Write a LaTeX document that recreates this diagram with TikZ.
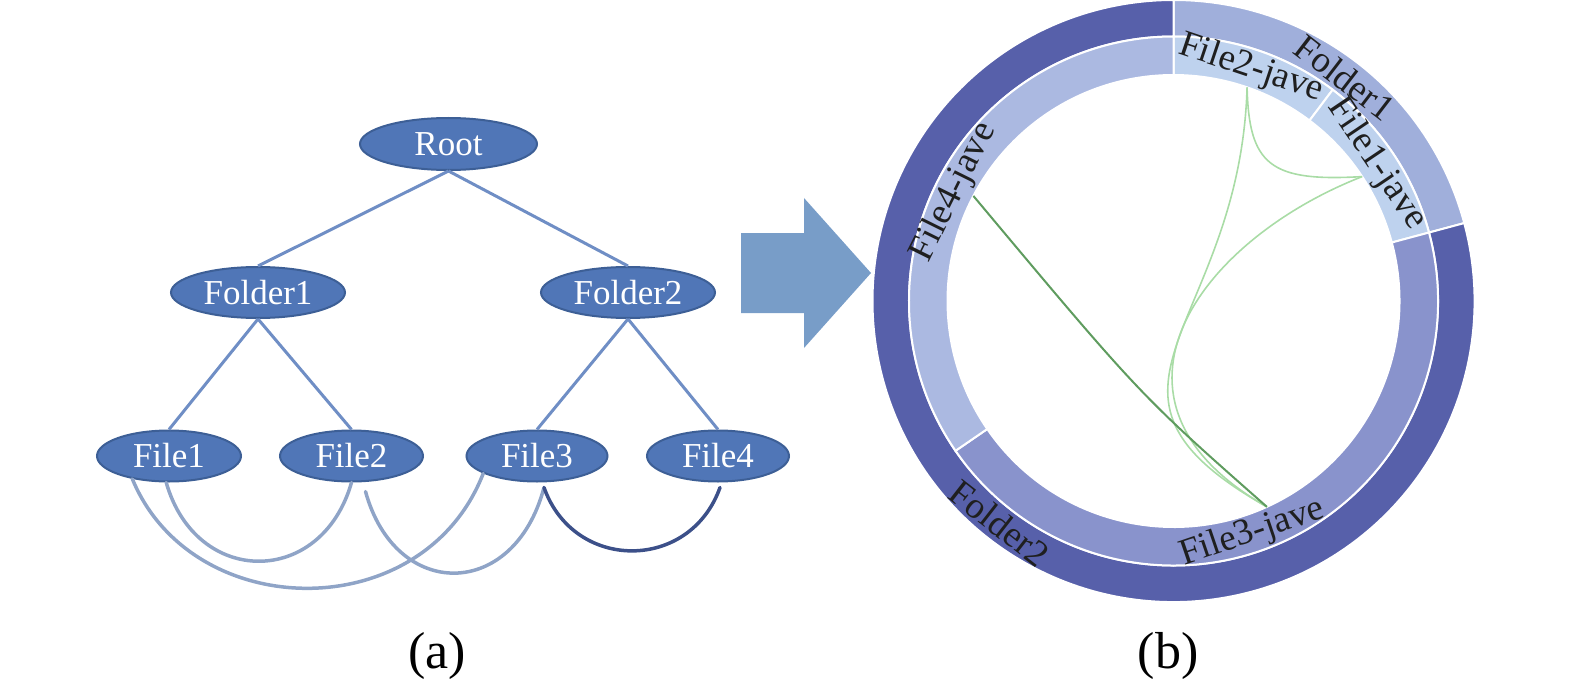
\documentclass[tikz,border=0pt]{standalone}
\usepackage{fontspec}
\setmainfont{Liberation Serif}
\usepackage{xcolor}
\usepackage{tikz}
\usetikzlibrary{shapes.geometric}
\definecolor{TreeFill}{HTML}{5076B7}
\definecolor{TreeBorder}{HTML}{3D5F96}
\definecolor{TreeEdge}{HTML}{6F8EC5}
\definecolor{DepLight}{HTML}{8FA4C7}
\definecolor{DepDark}{HTML}{3C5089}
\definecolor{ArrowFill}{HTML}{789DC8}
\definecolor{RingDark}{HTML}{5760AA}
\definecolor{RingLight}{HTML}{A0AFDB}
\definecolor{SegPale}{HTML}{BED2EE}
\definecolor{SegLight}{HTML}{ABB9E1}
\definecolor{SegMid}{HTML}{8993CC}
\definecolor{WireLight}{HTML}{A9DCA6}
\definecolor{WireDark}{HTML}{5F9C5F}
\tikzset{
  fstree node/.style={
    ellipse,
    fill=TreeFill,
    draw=TreeBorder,
    line width=1pt,
    inner sep=0pt,
    minimum height=25.5pt,
    text=white,
    font=\fontsize{17.5}{20}\selectfont
  },
  fstree edge/.style={TreeEdge, line width=1.5pt},
  fstree dep/.style={line width=1.75pt, line cap=round},
  chord seg/.style={draw=white, line width=1pt},
  chord lbl/.style={
    inner sep=0pt,
    font=\fontsize{18.5}{20}\selectfont,
    text=black!88
  },
  chord wire/.style={line width=0.8pt}
}

\begin{document}
\begin{tikzpicture}[x=0.5pt, y=0.5pt]
  \useasboundingbox (0,0) rectangle (1575,687);

  \node[fstree node, minimum width=88.5pt, minimum height=26pt] (root) at (448.5,543) {Root};
  \node[fstree node, minimum width=87pt] (fd1) at (258,394.5) {Folder1};
  \node[fstree node, minimum width=87pt] (fd2) at (628,394.5) {Folder2};
  \node[fstree node, minimum width=72pt] (f1) at (169,231) {File1};
  \node[fstree node, minimum width=71.5pt] (f2) at (351.5,231) {File2};
  \node[fstree node, minimum width=70.5pt] (f3) at (537,231) {File3};
  \node[fstree node, minimum width=71pt] (f4) at (718,231) {File4};

  \draw[fstree edge] (root.south) -- (fd1.north);
  \draw[fstree edge] (root.south) -- (fd2.north);
  \draw[fstree edge] (fd1.south) -- (f1.north);
  \draw[fstree edge] (fd1.south) -- (f2.north);
  \draw[fstree edge] (fd2.south) -- (f3.north);
  \draw[fstree edge] (fd2.south) -- (f4.north);

  \coordinate (f2dep) at ([shift={(14,-9)}]f2.south);
  \coordinate (f3dep) at ([shift={(7,-5)}]f3.south);
  \coordinate (f4dep) at ([shift={(2,-5)}]f4.south);
  \draw[fstree dep, DepLight] (f1.-96) .. controls +(30,-105) and +(-30,-105) .. (f2.-90);
  \draw[fstree dep, DepLight] (f1.-148) .. controls +(60,-145) and +(-60,-154) .. (f3.-162);
  \draw[fstree dep, DepLight] (f2dep) .. controls +(30,-109.5) and +(-30,-113.5) .. (f3dep);
  \draw[fstree dep, DepDark] (f3dep) .. controls +(30,-84.5) and +(-30,-84.5) .. (f4dep);

  \fill[ArrowFill] (741,374) -- (804,374) -- (804,339) -- (871,414) -- (804,489)
    -- (804,454) -- (741,454) -- cycle;

  \coordinate (c) at (1173.5,386);
  \path[chord seg, fill=RingLight] ([shift={(15:264.5)}]c) arc[start angle=15, end angle=90, radius=264.5]
    -- ([shift={(90:301)}]c) arc[start angle=90, end angle=15, radius=301] -- cycle;
  \path[chord seg, fill=RingDark] ([shift={(90:264.5)}]c) arc[start angle=90, end angle=375, radius=264.5]
    -- ([shift={(375:301)}]c) arc[start angle=375, end angle=90, radius=301] -- cycle;
  \path[chord seg, fill=SegPale] ([shift={(53:226)}]c) arc[start angle=53, end angle=90, radius=226]
    -- ([shift={(90:264.5)}]c) arc[start angle=90, end angle=53, radius=264.5] -- cycle;
  \path[chord seg, fill=SegPale] ([shift={(15:226)}]c) arc[start angle=15, end angle=53, radius=226]
    -- ([shift={(53:264.5)}]c) arc[start angle=53, end angle=15, radius=264.5] -- cycle;
  \path[chord seg, fill=SegMid] ([shift={(-145.5:226)}]c) arc[start angle=-145.5, end angle=15, radius=226]
    -- ([shift={(15:264.5)}]c) arc[start angle=15, end angle=-145.5, radius=264.5] -- cycle;
  \path[chord seg, fill=SegLight] ([shift={(90:226)}]c) arc[start angle=90, end angle=214.5, radius=226]
    -- ([shift={(214.5:264.5)}]c) arc[start angle=214.5, end angle=90, radius=264.5] -- cycle;

  \node[chord lbl, rotate=-37.5] (lbfd1) at ([shift={(52.5:282)}]c) {Folder1};
  \node[chord lbl, rotate=-38] (lbfd2) at ([shift={(-128:282)}]c) {Folder2};
  \node[chord lbl, rotate=-18.5] (lbf2) at ([shift={(71.5:245)}]c) {File2-jave};
  \node[chord lbl, rotate=-56] (lbf1) at ([shift={(34:245)}]c) {File1-jave};
  \node[chord lbl, rotate=18.8] (lbf3) at ([shift={(-71.2:245)}]c) {File3-jave};
  \node[chord lbl, rotate=63.6] (lbf4) at ([shift={(153.6:245)}]c) {File4-jave};

  \coordinate (e1) at ([shift={(33.4:226)}]c);
  \coordinate (e2) at ([shift={(71:226)}]c);
  \coordinate (e3) at ([shift={(-65.6:226)}]c);
  \coordinate (e4) at ([shift={(152.3:226)}]c);
  \draw[chord wire, WireLight] (e2) .. controls (1249,522) and (1270,505) .. (e1);
  \draw[chord wire, WireLight] (e2) .. controls (1240,357) and (1060,297) .. (e3);
  \draw[chord wire, WireLight] (e1) .. controls (1200,447) and (1080,287) .. (e3);
  \draw[chord wire, WireDark, line width=1pt] (e4) .. controls (1140,292) .. (e3);

  \node[font=\fontsize{26}{30}\selectfont] (capa) at (437,31) {(a)};
  \node[font=\fontsize{26}{30}\selectfont] (capb) at (1168,31) {(b)};
\end{tikzpicture}
\end{document}
